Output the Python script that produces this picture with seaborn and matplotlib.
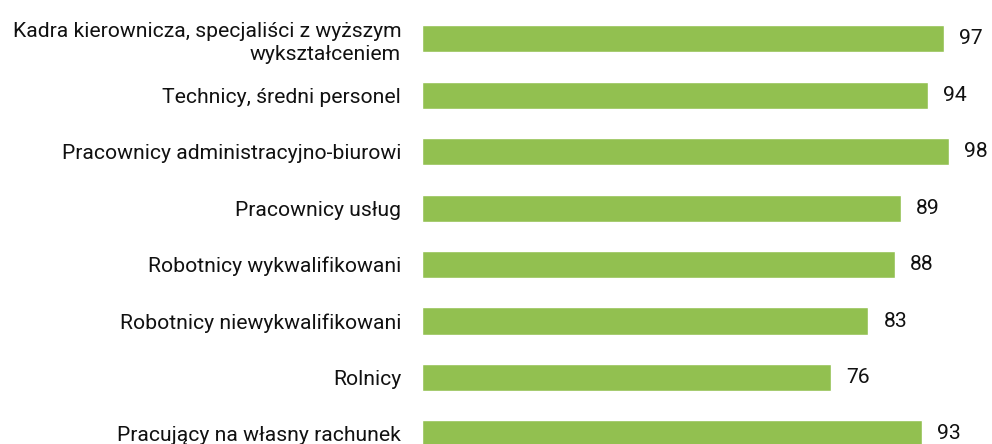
import matplotlib
matplotlib.use("Agg")
import matplotlib.pyplot as plt
import pandas as pd
import seaborn as sns

# data
groups = [
    "Kadra kierownicza, specjaliści z wyższym\nwykształceniem",
    "Technicy, średni personel",
    "Pracownicy administracyjno-biurowi",
    "Pracownicy usług",
    "Robotnicy wykwalifikowani",
    "Robotnicy niewykwalifikowani",
    "Rolnicy",
    "Pracujący na własny rachunek",
]
values = [97, 94, 98, 89, 88, 83, 76, 93]

df = pd.DataFrame({"group": groups, "value": values})

sns.set_theme(style="white")
plt.rcParams["font.family"] = ["Roboto", "DejaVu Sans"]

fig = plt.figure(figsize=(9.92, 4.44), dpi=100)
ax = fig.add_axes([422 / 992, 0.0, 537.8 / 992, 1.0])

sns.barplot(data=df, x="value", y="group", color="#92C050", width=0.48,
            saturation=1, ax=ax)

ax.set_xlim(0, 100)
ax.set_ylim(7.18, -0.69)
ax.set_xlabel("")
ax.set_ylabel("")
ax.set_xticks([])
ax.set_yticks(range(len(groups)))
ax.set_yticklabels(groups, linespacing=1.25, ha="right")
ax.tick_params(axis="y", length=0, pad=15, labelsize=15.2, colors="#111111")
sns.despine(ax=ax, left=True, bottom=True)

for i, v in enumerate(values):
    ax.text(v + 2.8, i, str(v), va="center", ha="left", fontsize=15.2,
            color="#111111", clip_on=False)

fig.savefig("out.png", dpi=100)
